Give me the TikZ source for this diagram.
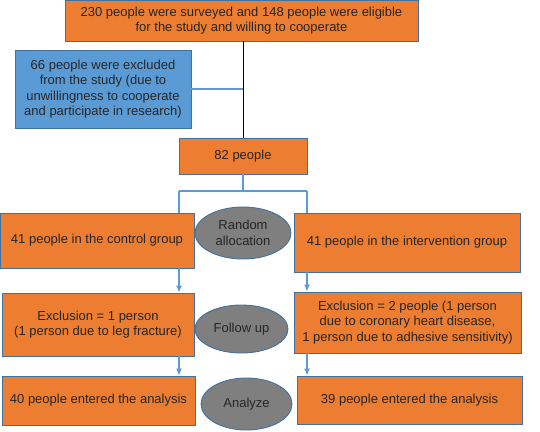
\documentclass[tikz,border=0pt]{standalone}
\usepackage{fontspec}
\setmainfont{Liberation Sans}
\usepackage{tikz}
\usetikzlibrary{positioning,arrows.meta,shapes.geometric,calc}

\definecolor{boxorange}{HTML}{ED7D31}
\definecolor{boxblue}{HTML}{5B9BD5}
\definecolor{edgeblue}{HTML}{41719C}
\definecolor{linkblue}{HTML}{5B9BD5}
\definecolor{ovalgray}{HTML}{7F7F7F}

\begin{document}
\begin{tikzpicture}[
  x=1pt, y=-1pt,
  font=\fontsize{13}{15.5}\selectfont, >={Latex[length=7pt,width=6pt]},
  box/.style={draw=edgeblue, fill=boxorange, line width=0.9pt, align=center, inner sep=2pt, text=black!85},
  excl/.style={box, fill=boxblue},
  oval/.style={ellipse, draw=edgeblue, fill=ovalgray, line width=0.9pt, align=center, inner sep=0pt, text=black!85},
  link/.style={draw=linkblue, line width=1.2pt},
]
\useasboundingbox (0,0) rectangle (540,431);
% ---- screening ----
\node[box, minimum width=353pt, minimum height=41pt] (top) at (241.5,20.5)
  {230 people were surveyed and 148 people were eligible\\for the study and willing to cooperate};
\node[excl, minimum width=176pt, minimum height=78pt] (out) at (103,89)
  {66 people were excluded\\from the study (due to\\unwillingness to cooperate\\and participate in research)};
\node[box, minimum width=128pt, minimum height=36pt] (n82) at (243,156) {82 people};
\draw[black, line width=0.7pt] (top.south -| n82.north) -- (n82.north);
\draw[link] (out.east) -- (out.east -| n82.north);
% ---- allocation ----
\node[box, minimum width=194pt, minimum height=55pt] (ctrl) at (97,240.5)
  {41 people in the control group};
\node[box, minimum width=226pt, minimum height=59pt] (intv) at (407,242.5)
  {41 people in the intervention group};
\node[oval, minimum width=96pt, minimum height=52pt] (rand) at (243,233) {Random\\allocation};
\coordinate (sl) at (179,191);
\coordinate (sr) at (307,191);
\draw[link] (n82.south) -- (n82.south |- sl);
\draw[link] (sl) -- (sr);
\draw[link] (sl) -- (sl |- ctrl.north);
\draw[link] (sr) -- (sr |- intv.north);
% ---- follow up ----
\node[box, minimum width=192pt, minimum height=63pt] (exl) at (98,324.5)
  {Exclusion = 1 person\\(1 person due to leg fracture)};
\node[box, minimum width=227pt, minimum height=61pt] (exr) at (407.5,322.5)
  {Exclusion = 2 people (1 person\\due to coronary heart disease,\\1 person due to adhesive sensitivity)};
\node[oval, minimum width=93pt, minimum height=48pt] (follow) at (241.5,329) {Follow up};
\draw[link, ->] (sl |- ctrl.south) -- (sl |- exl.north);
\draw[link, ->] (sr |- intv.south) -- (sr |- exr.north);
% ---- analysis ----
\node[box, minimum width=193pt, minimum height=49pt] (anl) at (98.5,400.5)
  {40 people entered the analysis};
\node[box, minimum width=225pt, minimum height=48pt] (anr) at (409.5,400)
  {39 people entered the analysis};
\node[oval, minimum width=91pt, minimum height=52pt] (analyze) at (246.5,404) {Analyze};
\draw[link, ->] (sl |- exl.south) -- (sl |- anl.north);
\draw[link, ->] (sr |- exr.south) -- (sr |- anr.north);
\end{tikzpicture}
\end{document}
